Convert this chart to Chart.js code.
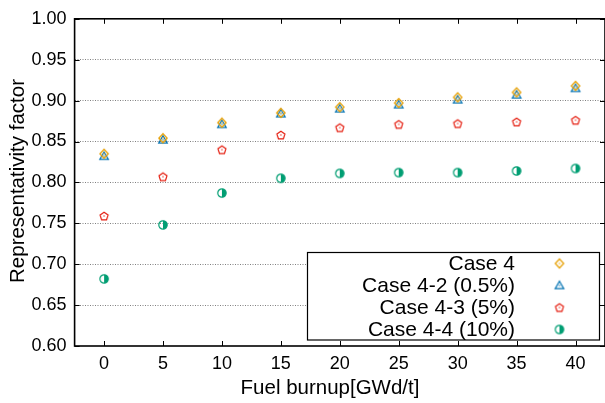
<!DOCTYPE html>
<html>
<head>
<meta charset="utf-8">
<script src="https://cdn.jsdelivr.net/npm/chart.js@4"></script>
<style>
  html, body { margin: 0; padding: 0; background: #fff; overflow: hidden; }
  #wrap { width: 610px; height: 403px; }
</style>
</head>
<body>
<div id="wrap"><canvas id="burnupChart" width="610" height="403"></canvas></div>
<script>
// ----------------- Data -----------------
const burnup = [0, 5, 10, 15, 20, 25, 30, 35, 40];
const case4 = [0.835, 0.854, 0.873, 0.885, 0.892, 0.897, 0.904, 0.910, 0.918];
const case4_2 = [0.832, 0.852, 0.871, 0.884, 0.890, 0.895, 0.901, 0.907, 0.915];
const case4_3 = [0.759, 0.807, 0.840, 0.858, 0.867, 0.871, 0.872, 0.874, 0.876];
const case4_4 = [0.682, 0.748, 0.787, 0.805, 0.811, 0.812, 0.812, 0.814, 0.817];
const seriesLabels = ['Case 4', 'Case 4-2 (0.5%)', 'Case 4-3 (5%)', 'Case 4-4 (10%)'];
const xTicks = [0, 5, 10, 15, 20, 25, 30, 35, 40];
const xTitle = 'Fuel burnup[GWd/t]';
const yTitle = 'Representativity factor';

const FONT = '"Liberation Sans", Arial, sans-serif';

// ----------------- Point glyphs (gnuplot-like open points) -----------------
function glyph(draw) {
  const c = document.createElement('canvas');
  c.width = 14; c.height = 14;
  const g = c.getContext('2d');
  g.translate(7, 7);
  g.lineWidth = 1.2;
  draw(g);
  return c;
}
function dot(g, color) {
  g.fillStyle = color;
  g.fillRect(-0.6, -0.6, 1.2, 1.2);
}

const diamond = glyph(g => {
  g.strokeStyle = '#e69f00';
  g.beginPath();
  g.moveTo(0, -4.5); g.lineTo(4.2, 0); g.lineTo(0, 4.5); g.lineTo(-4.2, 0); g.closePath();
  g.stroke();
  dot(g, '#e69f00');
});
const triangle = glyph(g => {
  g.strokeStyle = '#0072b2';
  g.beginPath();
  g.moveTo(0, -4.2); g.lineTo(4.3, 3.2); g.lineTo(-4.3, 3.2); g.closePath();
  g.stroke();
  dot(g, '#0072b2');
});
const pentagon = glyph(g => {
  g.strokeStyle = '#e51e10';
  g.beginPath();
  for (let i = 0; i < 5; i++) {
    const a = -Math.PI / 2 + i * 2 * Math.PI / 5;
    const px = 4.2 * Math.cos(a), py = 4.2 * Math.sin(a) + 0.4;
    if (i === 0) g.moveTo(px, py); else g.lineTo(px, py);
  }
  g.closePath();
  g.stroke();
  dot(g, '#e51e10');
});
const halfCircle = glyph(g => {
  g.strokeStyle = '#009e73';
  g.fillStyle = '#009e73';
  g.beginPath();
  g.arc(0, 0, 4.2, -Math.PI / 2, Math.PI / 2);
  g.closePath();
  g.fill();
  g.beginPath();
  g.arc(0, 0, 4.2, 0, Math.PI * 2);
  g.stroke();
});
const glyphs = [diamond, triangle, pentagon, halfCircle];
const colors = ['#e69f00', '#0072b2', '#e51e10', '#009e73'];

function points(ys) {
  return burnup.map((x, i) => ({ x: x, y: ys[i] }));
}

// ----------------- Frame, inward ticks, titles and legend -----------------
const gnuplotLook = {
  id: 'gnuplotLook',
  afterDatasetsDraw(chart) {
    const { ctx, chartArea: a, scales } = chart;
    ctx.save();

    // inward tick marks on all four sides
    ctx.strokeStyle = '#000';
    ctx.lineWidth = 1;
    ctx.beginPath();
    xTicks.forEach(v => {
      const px = Math.round(scales.x.getPixelForValue(v)) + 0.5;
      ctx.moveTo(px, a.bottom); ctx.lineTo(px, a.bottom - 5);
      ctx.moveTo(px, a.top); ctx.lineTo(px, a.top + 5);
    });
    scales.y.ticks.forEach(t => {
      const py = Math.round(scales.y.getPixelForValue(t.value)) + 0.5;
      ctx.moveTo(a.left, py); ctx.lineTo(a.left + 5, py);
      ctx.moveTo(a.right, py); ctx.lineTo(a.right - 5, py);
    });
    ctx.stroke();

    // legend box, bottom right
    const box = { left: 307.5, top: 252.5, right: 599.5, bottom: 340 };
    ctx.fillStyle = '#fff';
    ctx.fillRect(box.left, box.top, box.right - box.left, box.bottom - box.top);
    ctx.strokeStyle = '#000';
    ctx.lineWidth = 1.2;
    ctx.strokeRect(box.left, box.top, box.right - box.left, box.bottom - box.top);
    ctx.font = '21px ' + FONT;
    ctx.fillStyle = '#000';
    ctx.textAlign = 'right';
    ctx.textBaseline = 'middle';
    chart.data.datasets.forEach((ds, i) => {
      const y = 263.5 + i * 22;
      ctx.fillText(ds.label, 515, y + 0.5);
      ctx.drawImage(glyphs[i], 559.5 - 7, y - 7);
    });

    // frame
    ctx.lineWidth = 1.6;
    ctx.strokeRect(a.left, a.top, a.right - a.left, a.bottom - a.top);

    // axis titles
    ctx.fillStyle = '#000';
    ctx.font = '20.5px ' + FONT;
    ctx.textAlign = 'center';
    ctx.textBaseline = 'middle';
    ctx.fillText(xTitle, 330, 388);
    ctx.translate(18.5, 181);
    ctx.rotate(-Math.PI / 2);
    ctx.fillText(yTitle, 0, 0);
    ctx.restore();
  }
};

const ctx = document.getElementById('burnupChart').getContext('2d');
new Chart(ctx, {
  type: 'scatter',
  data: {
    datasets: [case4, case4_2, case4_3, case4_4].map((ys, i) => ({
      label: seriesLabels[i],
      data: points(ys),
      pointStyle: glyphs[i],
      borderColor: colors[i],
      backgroundColor: colors[i],
      showLine: false
    }))
  },
  options: {
    responsive: false,
    animation: false,
    devicePixelRatio: 1,
    layout: { padding: { top: 16, right: 1.3, left: 0, bottom: 0 } },
    plugins: { legend: { display: false }, tooltip: { enabled: false } },
    scales: {
      x: {
        type: 'linear',
        min: -2.5,
        max: 42.5,
        afterBuildTicks: scale => { scale.ticks = xTicks.map(v => ({ value: v })); },
        afterFit: scale => { scale.height = 57; },
        grid: { display: false, drawTicks: false },
        border: { display: false },
        ticks: {
          color: '#000',
          font: { family: FONT, size: 18 },
          padding: 7,
          maxRotation: 0
        }
      },
      y: {
        min: 0.6,
        max: 1.0,
        afterFit: scale => { scale.width = 74.6; },
        grid: {
          drawTicks: false,
          color: c => (c.tick && (c.tick.value <= 0.6001 || c.tick.value >= 0.9999)) ? 'rgba(0,0,0,0)' : '#808080',
          lineWidth: 1
        },
        border: { display: false, dash: [1, 1.5] },
        ticks: {
          stepSize: 0.05,
          color: '#000',
          font: { family: FONT, size: 18 },
          padding: 8,
          callback: v => v.toFixed(2)
        }
      }
    }
  },
  plugins: [gnuplotLook]
});
</script>
</body>
</html>
